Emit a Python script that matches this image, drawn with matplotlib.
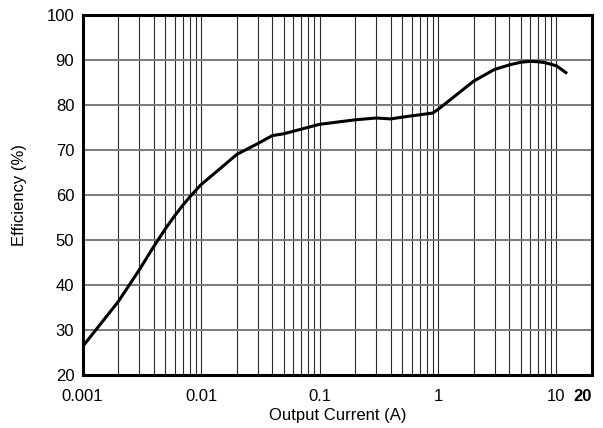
import matplotlib
matplotlib.use('Agg')
import matplotlib.pyplot as plt

plt.rcParams['font.family'] = ['Liberation Sans', 'DejaVu Sans']

# Efficiency curve
current = [0.001, 0.002, 0.003, 0.004, 0.005, 0.006, 0.007, 0.008, 0.009, 0.01,
           0.015, 0.02, 0.03, 0.04, 0.05, 0.1, 0.2, 0.3, 0.4, 0.5, 0.9, 1.0,
           2, 3, 4, 5, 6, 7, 8, 10, 12]
efficiency = [26.3, 36.3, 43.3, 48.6, 52.5, 55.4, 57.7, 59.5, 61.0, 62.3,
              66.2, 69.0, 71.4, 73.2, 73.6, 75.7, 76.7, 77.1, 76.9, 77.3, 78.2, 79.0,
              85.3, 87.9, 88.9, 89.5, 89.7, 89.6, 89.4, 88.7, 87.2]

x_ticks = [0.001, 0.01, 0.1, 1, 10, 20]
x_tick_labels = ['0.001', '0.01', '0.1', '1', '10', '20']
y_ticks = [20, 30, 40, 50, 60, 70, 80, 90, 100]

fig = plt.figure(figsize=(6.03, 4.28), dpi=100)
ax = fig.add_axes([0.137, 0.124, 0.845, 0.841])

ax.set_xscale('log')
ax.set_xlim(0.001, 20)
ax.set_ylim(20, 100)

# grid: every 1-9 multiple vertically, every 10 % horizontally
ax.set_xticks(x_ticks)
ax.set_xticklabels(x_tick_labels)
ax.set_yticks(y_ticks)
ax.grid(True, which='major', axis='y', color='#7a7a7a', linewidth=1.4)
ax.grid(True, which='both', axis='x', color='#2a2a2a', linewidth=0.8)
ax.tick_params(axis='both', which='both', length=0, labelsize=12)
ax.tick_params(axis='x', pad=10)
ax.tick_params(axis='y', pad=6)

last = ax.get_xticklabels()[-1]
last.set_fontweight('bold')
last.set_horizontalalignment('right')

ax.plot(current, efficiency, color='black', linewidth=2.2, zorder=3)

for s in ax.spines.values():
    s.set_linewidth(2.2)
    s.set_zorder(4)

ax.set_xlabel('Output Current (A)', fontsize=12, labelpad=3)
ax.set_ylabel('Efficiency (%)', fontsize=12, labelpad=14)

fig.savefig('out.png', dpi=100)
